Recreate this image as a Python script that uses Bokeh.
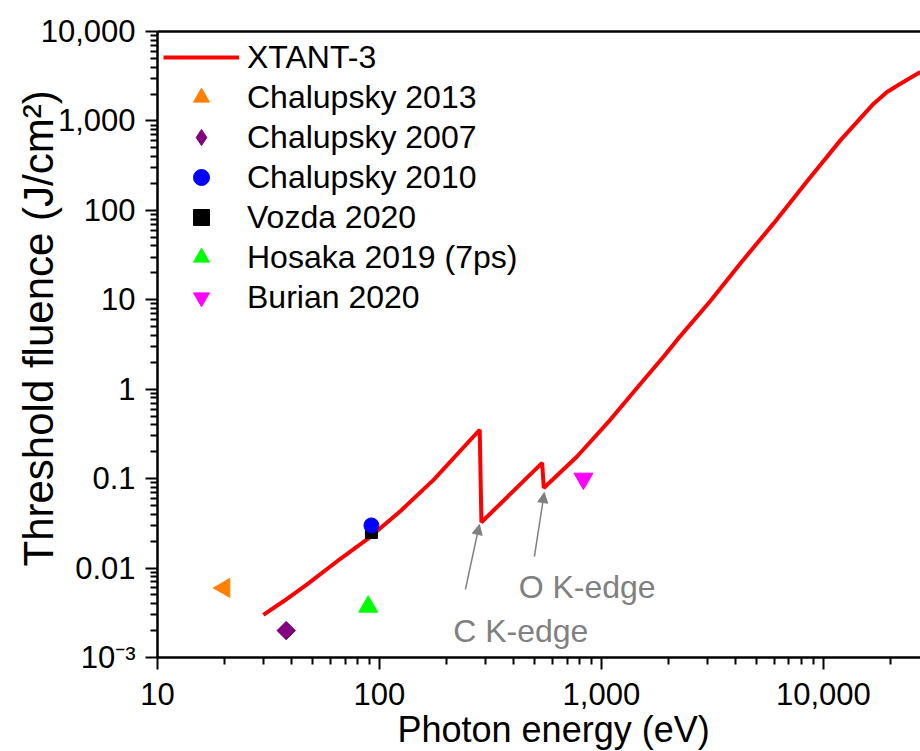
import math
from bokeh.plotting import figure
from bokeh.models import (FixedTicker, LogAxis, Label, Arrow, NormalHead,
                          Legend, LegendItem, Title)
from bokeh.embed import file_html
from bokeh.resources import INLINE

# ---------------- data ----------------
xtant_energy = [30, 37.1, 47.2, 66.7, 87.9, 124.5, 175.8, 283, 288, 541, 550,
                777, 1096, 1551, 1909, 2193, 3097, 4227, 5970, 8430, 11930,
                16850, 19360, 22250, 27350]
xtant_fluence = [0.0030, 0.00428, 0.00656, 0.0127, 0.0209, 0.0435, 0.0975,
                 0.352, 0.0325, 0.150, 0.0787, 0.177, 0.455, 1.27, 2.32, 3.56,
                 9.7, 25.5, 71.5, 210, 606, 1560, 2105, 2606, 3516]

chalupsky2013_E = [20]
chalupsky2013_F = [0.006]
chalupsky2007_E = [38]
chalupsky2007_F = [0.002]
chalupsky2010_E = [92]
chalupsky2010_F = [0.030]
vozda2020_E = [92]
vozda2020_F = [0.025]
hosaka2019_E = [89]
hosaka2019_F = [0.0037]
burian2020_E = [830]
burian2020_F = [0.10]

x_tick_values = [10, 100, 1000, 10000]
x_tick_labels = ["10", "100", "1,000", "10,000"]
y_tick_values = [1e-3, 1e-2, 1e-1, 1, 10, 100, 1000, 10000]
y_tick_labels = ["10\u207b\u00b3", "0.01", "0.1", "1", "10", "100", "1,000", "10,000"]

x_title = "Photon energy (eV)"
y_title = "Threshold fluence (J/cm\u00b2)"

# annotations: (text, x, y) and arrows (x_start, y_start, x_end, y_end)
c_edge_text = ("C K-edge", 215, 0.00196)
o_edge_text = ("O K-edge", 424, 0.00607)
c_edge_arrow = (244, 0.00577, 282, 0.0307)
o_edge_arrow = (499, 0.01345, 553, 0.0698)

FONT = "Liberation Sans"
GRAY = "#808080"

# ---------------- figure ----------------
p = figure(width=920, height=751, x_axis_type="log", y_axis_type="log",
           x_range=(10, 27400), y_range=(1e-3, 1e4),
           output_backend="svg", toolbar_location=None,
           min_border_left=157, min_border_right=0,
           min_border_top=31, min_border_bottom=94)
p.grid.visible = False
p.outline_line_color = None
p.background_fill_color = "white"
p.border_fill_color = "white"

def minor_list(decades):
    out = []
    for d in decades:
        for k in range(2, 10):
            out.append(k * d)
    return out

p.xaxis[0].ticker = FixedTicker(ticks=x_tick_values,
                                minor_ticks=minor_list([10, 100, 1000, 10000]))
p.yaxis[0].ticker = FixedTicker(ticks=y_tick_values,
                                minor_ticks=minor_list([1e-3, 1e-2, 1e-1, 1, 10, 100, 1000]))
p.xaxis[0].major_label_overrides = {v: l for v, l in zip(x_tick_values, x_tick_labels)}
p.yaxis[0].major_label_overrides = {v: l for v, l in zip(y_tick_values, y_tick_labels)}

for ax in (p.xaxis[0], p.yaxis[0]):
    ax.axis_line_width = 2.5
    ax.axis_line_color = "black"
    ax.major_tick_line_width = 2
    ax.minor_tick_line_width = 2
    ax.major_tick_out = 12
    ax.major_tick_in = 0
    ax.minor_tick_out = 7
    ax.minor_tick_in = 0
    ax.major_label_text_font = FONT
    ax.major_label_text_font_size = "31px"
    ax.major_label_text_color = "black"
p.yaxis[0].major_label_standoff = 10
p.xaxis[0].major_label_standoff = 13

# axis titles placed like the original (not centred on the frame)
p.add_layout(Title(text=x_title, align="left", offset=240, standoff=-1,
                   text_font=FONT, text_font_size="36px", text_font_style="normal",
                   text_color="black"), "below")
p.add_layout(Title(text=y_title, align="left", offset=91, standoff=-48,
                   text_font=FONT, text_font_size="42px", text_font_style="normal",
                   text_color="black"), "left")

top_axis = LogAxis(ticker=FixedTicker(ticks=[]), axis_line_width=2.5,
                   axis_line_color="black", major_tick_line_color=None,
                   minor_tick_line_color=None, major_label_text_font_size="0px")
p.add_layout(top_axis, "above")

# ---------------- glyphs ----------------
line = p.line(xtant_energy, xtant_fluence, line_color="#FF0000", line_width=4)

r_c13 = p.scatter(chalupsky2013_E, chalupsky2013_F, marker="triangle", angle=math.pi / 2,
                  size=19, fill_color="#FF8000", line_color="#FF8000")
# diamond drawn under the rotated square: it is hidden in the plot and gives the legend glyph
r_c07_leg = p.scatter(chalupsky2007_E, chalupsky2007_F, marker="diamond", size=17,
                      fill_color="#800080", line_color="#800080")
r_c07 = p.scatter(chalupsky2007_E, chalupsky2007_F, marker="square", angle=math.pi / 4,
                  size=13, fill_color="#800080", line_color="#800080")
r_voz = p.scatter(vozda2020_E, vozda2020_F, marker="square", size=12,
                  fill_color="black", line_color="black")
r_c10 = p.scatter(chalupsky2010_E, chalupsky2010_F, marker="circle", size=15,
                  fill_color="#0000FF", line_color="#0000FF")
r_hos = p.scatter(hosaka2019_E, hosaka2019_F, marker="triangle", size=19,
                  fill_color="#00FF00", line_color="#00FF00")
r_bur = p.scatter(burian2020_E, burian2020_F, marker="inverted_triangle", size=19,
                  fill_color="#FF00FF", line_color="#FF00FF")

# ---------------- annotations ----------------
for (xs, ys, xe, ye) in (c_edge_arrow, o_edge_arrow):
    p.add_layout(Arrow(end=NormalHead(size=10, fill_color=GRAY, line_color=GRAY),
                       x_start=xs, y_start=ys, x_end=xe, y_end=ye,
                       line_color=GRAY, line_width=1.5))
for (txt, tx, ty) in (c_edge_text, o_edge_text):
    p.add_layout(Label(x=tx, y=ty, text=txt, text_font=FONT, text_font_size="32px",
                       text_color=GRAY, text_align="left", text_baseline="alphabetic"))

# ---------------- legend ----------------
legend = Legend(items=[
    LegendItem(label="XTANT-3", renderers=[line]),
    LegendItem(label="Chalupsky 2013", renderers=[r_c13]),
    LegendItem(label="Chalupsky 2007", renderers=[r_c07_leg]),
    LegendItem(label="Chalupsky 2010", renderers=[r_c10]),
    LegendItem(label="Vozda 2020", renderers=[r_voz]),
    LegendItem(label="Hosaka 2019 (7ps)", renderers=[r_hos]),
    LegendItem(label="Burian 2020", renderers=[r_bur]),
], location="top_left")
legend.label_text_font = FONT
legend.label_text_font_size = "32px"
legend.label_text_color = "black"
legend.glyph_width = 76
legend.glyph_height = 40
legend.label_height = 40
legend.label_standoff = 8
legend.spacing = 0
legend.padding = 0
legend.margin = 6
legend.border_line_color = None
legend.background_fill_alpha = 0
p.add_layout(legend)

open("out.html", "w").write(file_html(p, INLINE))
